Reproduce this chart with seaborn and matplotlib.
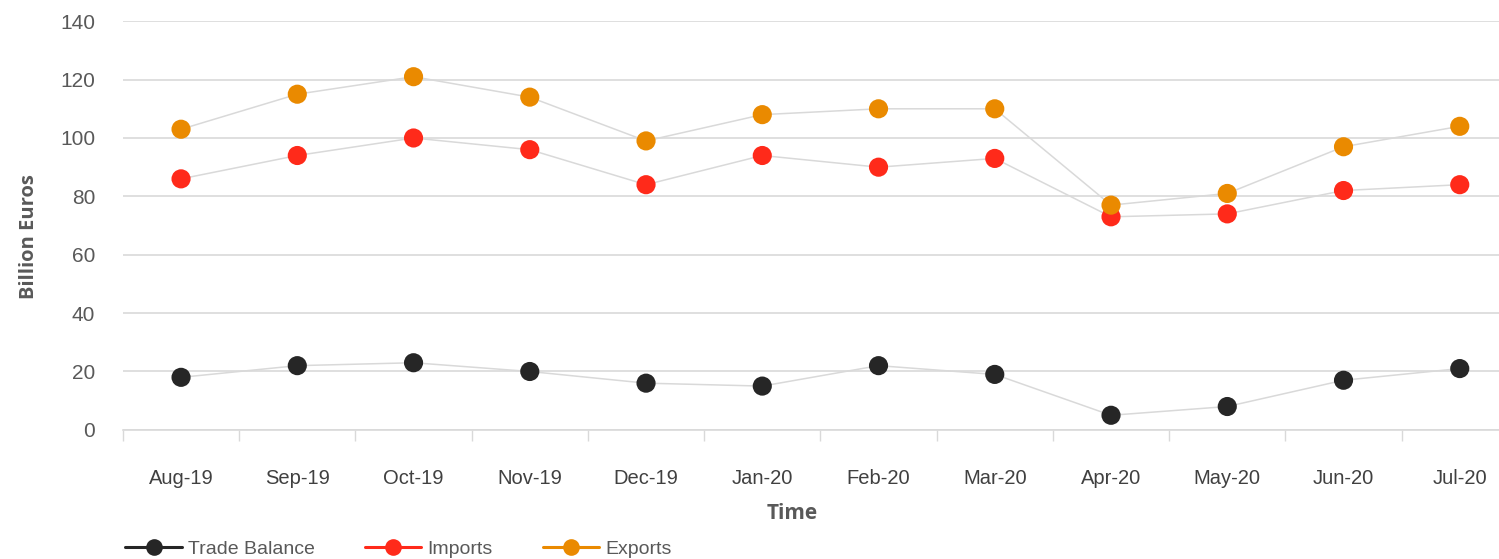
import numpy as np
import pandas as pd
import matplotlib
matplotlib.use("Agg")
import matplotlib.pyplot as plt
from matplotlib.lines import Line2D
import seaborn as sns

months = ["Aug-19", "Sep-19", "Oct-19", "Nov-19", "Dec-19", "Jan-20",
          "Feb-20", "Mar-20", "Apr-20", "May-20", "Jun-20", "Jul-20"]
trade_balance = [18, 22, 23, 20, 16, 15, 22, 19, 5, 8, 17, 21]
imports = [86, 94, 100, 96, 84, 94, 90, 93, 73, 74, 82, 84]
exports = [103, 115, 121, 114, 99, 108, 110, 110, 77, 81, 97, 104]

series_names = ["Trade Balance", "Imports", "Exports"]
series_colors = {"Trade Balance": "#262626", "Imports": "#ff2a1a", "Exports": "#ea8a00"}

df = pd.DataFrame({
    "pos": list(range(len(months))) * 3,
    "value": trade_balance + imports + exports,
    "series": np.repeat(series_names, len(months)),
})

sns.set_style("white")
plt.rcParams["font.family"] = ["Liberation Sans", "DejaVu Sans"]

fig = plt.figure(figsize=(14.99, 5.59), dpi=100)
# the category axis runs a little past the right edge, as in the original
ax = fig.add_axes([0.082, 0.231, 0.9306, 0.731])

# thin grey connectors, then coloured markers on top
for name in series_names:
    sub = df[df["series"] == name]
    sns.lineplot(data=sub, x="pos", y="value", color="#d9d9d9", linewidth=1.1,
                 ax=ax, legend=False, zorder=2)
sns.scatterplot(data=df, x="pos", y="value", hue="series", palette=series_colors,
                s=190, edgecolor="none", ax=ax, legend=False, zorder=3)

ax.set_xlim(-0.5, 11.5)
ax.set_ylim(0, 140)
ax.set_yticks(range(0, 141, 20))
ax.yaxis.grid(True, color="#d9d9d9", linewidth=1.2)
ax.set_axisbelow(True)

ax.set_xticks(range(len(months)))
ax.set_xticklabels(months)
ax.set_xticks(np.arange(-0.5, 11.6, 1.0), minor=True)
ax.tick_params(axis="x", which="major", bottom=False, length=0, pad=28,
               labelsize=14.5, labelcolor="#404040")
ax.tick_params(axis="x", which="minor", bottom=True, length=8, color="#d9d9d9", width=1)
ax.tick_params(axis="y", length=0, pad=20, labelsize=15, labelcolor="#595959")

for side in ["top", "right", "left"]:
    ax.spines[side].set_visible(False)
ax.spines["bottom"].set_color("#d9d9d9")
ax.spines["bottom"].set_linewidth(1.2)

ax.set_xlabel("Time", fontsize=15, fontweight="bold", color="#595959",
              family=["Open Sans", "DejaVu Sans"])
ax.set_ylabel("Billion Euros", fontsize=14.5, fontweight="bold", color="#595959",
              family=["Open Sans", "DejaVu Sans"])
ax.xaxis.set_label_coords(0.48, -0.178)
ax.yaxis.set_label_coords(-0.060, 0.474)

handles = [Line2D([0], [0], color=series_colors[n], linewidth=2.2, marker="o",
                  markersize=12, markeredgecolor="none") for n in series_names]
fig.legend(handles, series_names, loc="lower left", bbox_to_anchor=(0.072, -0.03),
           ncol=3, frameon=False, fontsize=14, handlelength=2.9, columnspacing=2.6,
           handletextpad=0.3, labelcolor="#595959")

fig.savefig("out.png", dpi=100)
